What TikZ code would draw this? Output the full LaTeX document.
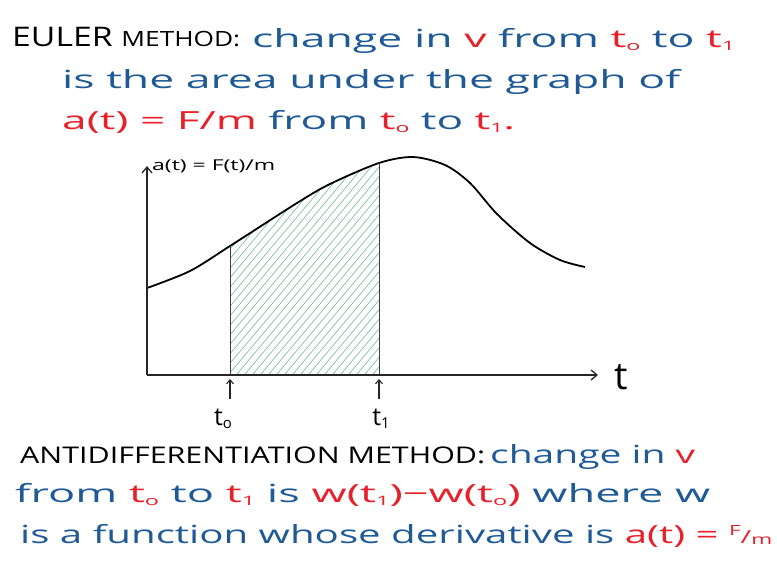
\documentclass[tikz,border=0pt]{standalone}
\usepackage{fontspec}
\setmainfont{Open Sans}
\usepackage{graphicx}
\usetikzlibrary{arrows.meta}
\definecolor{inkblue}{HTML}{1F5A96}
\definecolor{inkred}{HTML}{E8202A}
\definecolor{hatchgreen}{HTML}{7CC49A}
\newcommand\fs[1]{\fontsize{#1}{#1}\selectfont}
\newcommand\sbs[1]{\raisebox{-0.12em}{\fs{13}#1}}
\newcommand\sbl[1]{\raisebox{-0.12em}{\fs{15}#1}}
\newcommand\R[1]{\textcolor{inkred}{#1}}
\newcommand\B[1]{\textcolor{inkblue}{#1}}
\newcommand\Fm{\raisebox{0.3em}{\fs{14}F}{\fs{18}/}\raisebox{-0.05em}{\fs{14}m}}
\tikzset{
  txt/.style={anchor=base west, inner sep=0pt},
  axis/.style={draw=black!85, line width=1.3pt, -{Straight Barb[length=6pt,width=10pt]}},
  tickarrow/.style={draw=black!85, line width=1.1pt, -{Straight Barb[length=4pt,width=7pt]}},
  curve/.style={draw=black, line width=1.8pt, line join=round},
  bound/.style={draw=black!75, line width=1pt},
  hatchline/.style={draw=hatchgreen, line width=0.7pt},
  lbl/.style={inner sep=0pt, text=black, anchor=base}
}
\begin{document}
\begin{tikzpicture}[x=1pt,y=-1pt]
\useasboundingbox (0,0) rectangle (777,576);
% top text
\node[txt] (t1a) at (12,46) {\resizebox{228pt}{\height}{\fs{27}EULER \fs{21}METHOD:}};
\node[txt] (t1b) at (252,47) {\resizebox{483pt}{\height}{\fs{25}\B{change in} \R{v} \B{from} \R{t\sbs{o}} \B{to} \R{t\sbs{1}}}};
\node[txt] (t2) at (62,88) {\resizebox{618pt}{\height}{\fs{25}\B{is the area under the graph of}}};
\node[txt] (t3) at (62,129) {\resizebox{453pt}{\height}{\fs{25}\R{a(t) = F/m} \B{from} \R{t\sbs{o}} \B{to} \R{t\sbs{1}.}}};
% graph
\coordinate (O) at (147,375);
\coordinate (Ytop) at (147,166);
\coordinate (Xend) at (598,375);
\coordinate (c0) at (230,246);
\coordinate (c1) at (379,163);
\coordinate (b0) at (230,375);
\coordinate (b1) at (379,375);
\begin{scope}
  \clip (230,375) rectangle (379,140);
  \clip plot[smooth] coordinates {(147,288) (190,271) (230,246) (297,203) (330,184) (379,163) (413,157) (445,165) (470,183) (497,214) (530,243) (560,260) (585,267)} -- (585,380) -- (147,380) -- cycle;
  \foreach \x in {40,48,...,390} \draw[hatchline] (\x,380) -- ++(190,-226);
\end{scope}
\draw[curve] plot[smooth] coordinates {(147,288) (190,271) (230,246) (297,203) (330,184) (379,163) (413,157) (445,165) (470,183) (497,214) (530,243) (560,260) (585,267)};
\draw[bound] (b0) -- (c0);
\draw[bound] (b1) -- (c1);
\draw[axis] (O) -- (Ytop);
\draw[axis] (O) -- (Xend);
\node[txt] (ylab) at (152,170) {\resizebox{123pt}{\height}{\fs{15}a(t) = F(t)/m}};
\node[lbl, font=\fs{38}] (tlab) at (621,389) {t};
\coordinate (a0s) at (230,399);
\coordinate (a0e) at (230,379);
\coordinate (a1s) at (379,399);
\coordinate (a1e) at (379,379);
\draw[tickarrow] (a0s) -- (a0e);
\draw[tickarrow] (a1s) -- (a1e);
\node[lbl, font=\fs{25}] (l0) at (223,425) {t\sbl{o}};
\node[lbl, font=\fs{25}] (l1) at (381,425) {t\sbl{1}};
% bottom text
\node[txt] (b1a) at (20,463) {\resizebox{465pt}{\height}{\fs{23}ANTIDIFFERENTIATION METHOD:}};
\node[txt] (b1b) at (490,463) {\resizebox{205pt}{\height}{\fs{25}\B{change in} \R{v}}};
\node[txt] (b2) at (15,502) {\resizebox{695pt}{\height}{\fs{25}\B{from} \R{t\sbs{o}} \B{to} \R{t\sbs{1}} \B{is} \R{w(t\sbs{1})−w(t\sbs{o})} \B{where w}}};
\node[txt] (b3) at (20,543) {\resizebox{752pt}{\height}{\fs{25}\B{is a function whose derivative is} \R{a(t) = \Fm}}};
\end{tikzpicture}
\end{document}
